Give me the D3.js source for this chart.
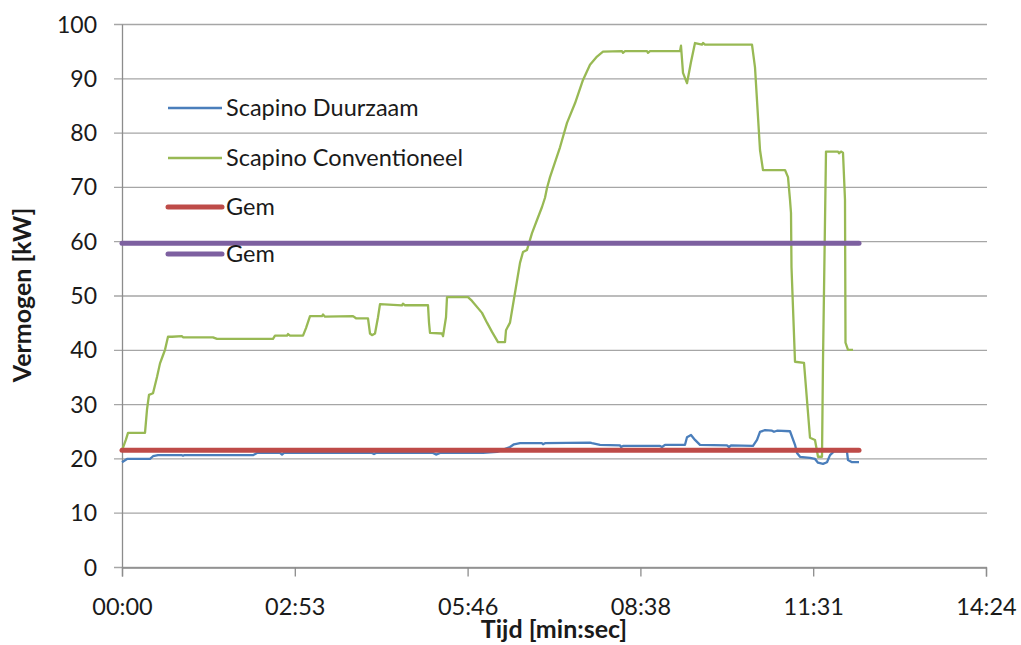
<!DOCTYPE html>
<html>
<head>
<meta charset="utf-8">
<script src="https://cdn.jsdelivr.net/npm/d3@7"></script>
<style>
  html, body { margin: 0; padding: 0; background: #fff; }
  svg { display: block; }
  text { font-family: Lato, "Open Sans", sans-serif; fill: #1a1a1a; }
</style>
</head>
<body>
<svg id="chart" width="1021" height="645"></svg>
<script>
// Power measurements, time in seconds, power in kW
const duurzaam = [
  [0,19.3],[5,19.9],[28,19.9],[31,20.4],[36,20.6],[60,20.6],[61,20.5],[62,20.6],[131,20.6],[135,21],[158,21],[160,20.7],[162,21],
  [188,21],[250,21],[252,20.8],[254,21],[311,21],[314,20.7],[318,21],[335,21],[361,21],[375,21.2],[388,22.1],[392,22.6],[398,22.8],
  [420,22.8],[421,22.6],[423,22.8],[468,22.9],[470,22.8],[478,22.5],[498,22.4],[499,22.1],[501,22.3],[538,22.3],[540,22.1],
  [543,22.5],[563,22.5],[565,23.9],[569,24.3],[573,23.4],[578,22.5],[605,22.4],[607,22.1],[609,22.4],[631,22.3],[635,23.4],
  [638,24.9],[643,25.2],[650,25.1],[652,24.9],[655,25.1],[668,25],[673,22.5],[675,21],[678,20.3],[688,20.1],[693,19.9],
  [696,19.2],[701,19],[705,19.3],[708,20.6],[712,21.3],[724,21.3],[725,21.2],[726,19.7],[730,19.3],[737,19.3]
];

const conventioneel = [
  [0,21.5],[4,23.5],[6,24.7],[23,24.7],[25,29],[27,31.7],[31,32],[35,35],[38,37.5],[41,39],[43,40],[46,42.4],[50,42.4],
  [60,42.5],[61,42.3],[91,42.3],[95,42],[151,42],[153,42.6],[165,42.6],[166,42.9],[168,42.6],[181,42.6],[184,44],[188,46.2],
  [200,46.2],[201,46.5],[203,46.1],[231,46.2],[234,45.8],[246,45.8],[248,43],[250,42.7],[253,43],[256,46],[258,48.4],
  [280,48.2],[281,48.5],[283,48.2],[306,48.2],[307,45],[308,43.1],[320,43],[321,42.5],[324,46],[325,49.7],[346,49.7],
  [350,49],[360,46.8],[365,45],[370,43.3],[376,41.4],[383,41.4],[384,43.6],[388,45],[393,50.5],[398,56],[401,58],[405,58.4],
  [410,61.5],[415,63.9],[420,66.3],[423,68],[425,69.8],[428,71.8],[438,77.3],[445,81.8],[453,85.4],[461,89.7],[468,92.5],
  [475,94],[481,94.9],[500,95],[501,94.7],[503,95],[525,95],[526,94.7],[528,95],[558,95],[559,96],[561,91],[565,89.1],
  [569,93],[573,96.5],[580,96.2],[581,96.5],[583,96.2],[630,96.2],[633,92],[636,82.9],[638,76.8],[641,73.1],[663,73.1],
  [666,71.8],[668,67.6],[669,65.2],[669.5,55.2],[673,37.8],[682,37.6],[688,23.8],[693,23.4],[696,20.3],[700,20.3],
  [701,38],[704,76.5],[716,76.5],[717,76.2],[719,76.5],[721,76.3],[723,67.6],[723.5,41.3],[726,40],[731,40]
];

// Averages
const gemDuurzaam = 21.5;
const gemConventioneel = 59.6;
const gemRange = [0, 737];

const seriesNames = ["Scapino Duurzaam", "Scapino Conventioneel", "Gem", "Gem"];
const seriesColors = ["#4a7ebb", "#98b954", "#be4b48", "#7d60a0"];

const yTicks = [0, 10, 20, 30, 40, 50, 60, 70, 80, 90, 100];
const xTicks = [0, 172.8, 345.6, 518.4, 691.2, 864];   // 0.002-day steps
const xTickLabels = ["00:00", "02:53", "05:46", "08:38", "11:31", "14:24"];

const xTitle = "Tijd [min:sec]";
const yTitle = "Vermogen [kW]";

const svg = d3.select("#chart");
const plot = { left: 122, right: 986, top: 24, bottom: 567 };

const x = d3.scaleLinear().domain([0, 864]).range([plot.left, plot.right]);
const y = d3.scaleLinear().domain([0, 100]).range([plot.bottom, plot.top]);

// Gridlines
svg.append("g")
  .selectAll("line")
  .data(yTicks)
  .join("line")
  .attr("x1", plot.left - 8)
  .attr("x2", plot.right + 1)
  .attr("y1", d => y(d) + 0.5)
  .attr("y2", d => y(d) + 0.5)
  .attr("stroke", "#a6a6a6")
  .attr("stroke-width", 1.3);

// Y axis
const yAxis = d3.axisLeft(y).tickValues(yTicks).tickSize(0).tickPadding(25).tickFormat(d3.format("d"));
const gy = svg.append("g").attr("transform", `translate(${plot.left},0)`).call(yAxis);
gy.select(".domain").attr("stroke", "#8c8c8c").attr("stroke-width", 1.3);
gy.selectAll("text").style("font-size", "23px").attr("fill", "#1a1a1a").attr("dy", "0.35em");

// X axis
const xAxis = d3.axisBottom(x).tickValues(xTicks).tickSize(9).tickPadding(22)
  .tickFormat((d, i) => xTickLabels[i]);
const gx = svg.append("g").attr("transform", `translate(0,${plot.bottom + 0.5})`).call(xAxis);
gx.select(".domain").attr("stroke", "#8c8c8c").attr("stroke-width", 1.3);
gx.selectAll(".tick line").attr("stroke", "#8c8c8c").attr("stroke-width", 1.3);
gx.selectAll("text").style("font-size", "23.5px").attr("fill", "#1a1a1a");

// Axis titles
svg.append("text")
  .attr("x", 554).attr("y", 638)
  .attr("text-anchor", "middle")
  .style("font-size", "25px").style("font-weight", "bold")
  .text(xTitle);

svg.append("text")
  .attr("transform", "translate(31,295) rotate(-90)")
  .attr("text-anchor", "middle")
  .style("font-size", "25px").style("font-weight", "bold")
  .text(yTitle);

// Series lines
const line = d3.line().x(d => x(d[0])).y(d => y(d[1]));

svg.append("path")
  .datum(conventioneel)
  .attr("d", line)
  .attr("fill", "none")
  .attr("stroke", seriesColors[1])
  .attr("stroke-width", 2.3)
  .attr("stroke-linejoin", "round");

svg.append("path")
  .datum(duurzaam)
  .attr("d", line)
  .attr("fill", "none")
  .attr("stroke", seriesColors[0])
  .attr("stroke-width", 2.3)
  .attr("stroke-linejoin", "round");

// Average lines
const averages = [gemDuurzaam, gemConventioneel];
svg.append("g")
  .selectAll("line")
  .data(averages)
  .join("line")
  .attr("x1", x(gemRange[0]))
  .attr("x2", x(gemRange[1]))
  .attr("y1", d => y(d))
  .attr("y2", d => y(d))
  .attr("stroke", (d, i) => seriesColors[2 + i])
  .attr("stroke-width", 5)
  .attr("stroke-linecap", "round");

// Legend
const legend = svg.append("g").attr("transform", "translate(168,108)");
const items = legend.selectAll("g")
  .data(seriesNames)
  .join("g")
  .attr("transform", (d, i) => `translate(0,${[0, 50, 99, 146][i]})`);

items.append("line")
  .attr("x1", 0).attr("x2", 54)
  .attr("stroke", (d, i) => seriesColors[i])
  .attr("stroke-width", (d, i) => i < 2 ? 2.3 : 5)
  .attr("stroke-linecap", (d, i) => i < 2 ? "butt" : "round");

items.append("text")
  .attr("x", 58)
  .attr("dy", "0.35em")
  .style("font-size", "23.5px")
  .text(d => d);
</script>
</body>
</html>
